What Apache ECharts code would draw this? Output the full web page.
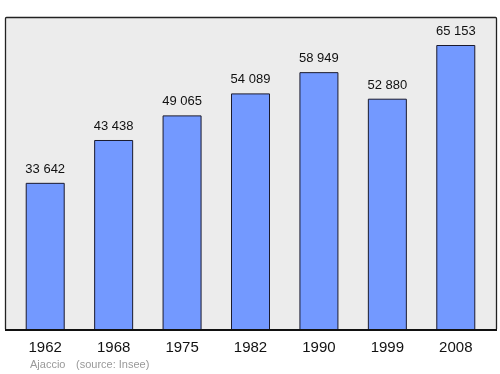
<!DOCTYPE html>
<html><head><meta charset="utf-8">
<script src="https://cdn.jsdelivr.net/npm/echarts@6/dist/echarts.min.js"></script>
<style>html,body{margin:0;padding:0;background:#fff}#c{width:500px;height:374px}</style>
</head><body><div id="c"></div>
<script>
const years = ['1962','1968','1975','1982','1990','1999','2008'];
const population = [33642, 43438, 49065, 54089, 58949, 52880, 65153];
const footerPlace = 'Ajaccio';
const footerSource = '(source: Insee)';

const fmt = v => String(v).replace(/\B(?=(\d{3})+(?!\d))/g, ' ');
const chart = echarts.init(document.getElementById('c'), null, {renderer: 'canvas'});
chart.setOption({
  animation: false,
  textStyle: {fontFamily: 'Liberation Sans, Arial, sans-serif'},
  graphic: [
    {type: 'rect', z: -10, shape: {x: 5.5, y: 17.5, width: 491, height: 312.5, r: 1},
     style: {fill: '#ececec', stroke: '#222', lineWidth: 1.3}},
    {type: 'line', z: 10, shape: {x1: 5, y1: 330, x2: 497, y2: 330}, style: {stroke: '#111', lineWidth: 2}},
    {type: 'text', left: 30, top: 359, style: {text: footerPlace, fill: '#999', fontSize: 11, fontFamily: 'Liberation Sans, Arial, sans-serif'}},
    {type: 'text', left: 76, top: 359, style: {text: footerSource, fill: '#999', fontSize: 11, fontFamily: 'Liberation Sans, Arial, sans-serif'}}
  ],
  grid: {left: 11, right: 10, top: 17, bottom: 44},
  xAxis: {
    type: 'category', data: years,
    axisLine: {show: false}, axisTick: {show: false},
    axisLabel: {color: '#111', fontSize: 15, margin: 10}
  },
  yAxis: {type: 'value', min: 0, max: 71555, show: false, splitLine: {show: false}},
  series: [{
    type: 'bar', data: population, barWidth: 39,
    itemStyle: {color: '#7399ff', borderColor: '#1a1a2e', borderWidth: 1},
    label: {show: true, position: 'top', distance: 7, color: '#111', fontSize: 13,
      formatter: p => fmt(p.value)}
  }]
});
</script></body></html>
